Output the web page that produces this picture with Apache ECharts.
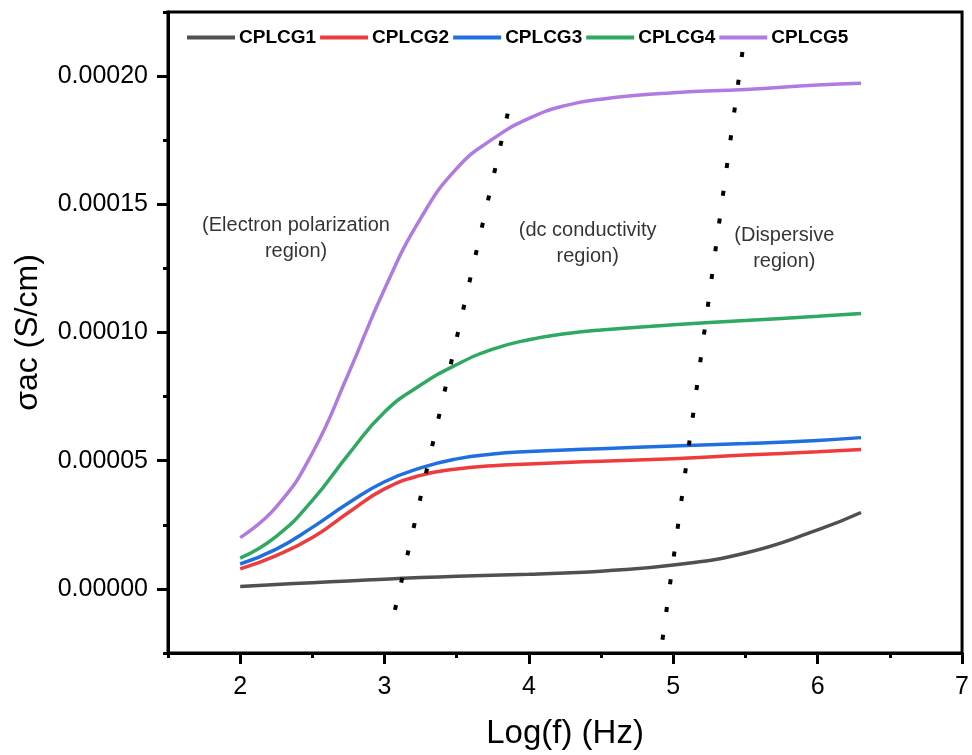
<!DOCTYPE html>
<html>
<head>
<meta charset="utf-8">
<script src="https://cdn.jsdelivr.net/npm/echarts@6/dist/echarts.min.js"></script>
<style>
  html, body { margin: 0; padding: 0; background: #fff; }
  #chart { width: 972px; height: 755px; }
</style>
</head>
<body>
<div id="chart"></div>
<script>
// log10 of frequency (Hz) at which conductivity was sampled
const logF = [2.0, 2.25, 2.5, 2.75, 3.0, 3.25, 3.5, 3.75, 4.0, 4.25, 4.5, 5.0, 5.5, 6.0, 6.3];

// AC conductivity, S/cm
const cplcg1 = [0.09e-5, 0.17e-5, 0.24e-5, 0.31e-5, 0.38e-5, 0.44e-5, 0.49e-5, 0.53e-5, 0.57e-5, 0.62e-5, 0.69e-5, 0.93e-5, 1.40e-5, 2.30e-5, 2.98e-5];
const cplcg2 = [0.78e-5, 1.30e-5, 2.00e-5, 2.98e-5, 3.90e-5, 4.43e-5, 4.68e-5, 4.80e-5, 4.87e-5, 4.93e-5, 4.98e-5, 5.08e-5, 5.22e-5, 5.35e-5, 5.44e-5];
const cplcg3 = [0.97e-5, 1.55e-5, 2.40e-5, 3.35e-5, 4.18e-5, 4.72e-5, 5.07e-5, 5.26e-5, 5.36e-5, 5.42e-5, 5.47e-5, 5.57e-5, 5.67e-5, 5.79e-5, 5.90e-5];
const cplcg4 = [1.20e-5, 2.05e-5, 3.45e-5, 5.25e-5, 6.90e-5, 7.95e-5, 8.75e-5, 9.35e-5, 9.72e-5, 9.95e-5, 10.10e-5, 10.30e-5, 10.47e-5, 10.63e-5, 10.74e-5];
const cplcg5 = [2.00e-5, 3.20e-5, 5.30e-5, 8.40e-5, 11.70e-5, 14.45e-5, 16.40e-5, 17.55e-5, 18.35e-5, 18.85e-5, 19.10e-5, 19.35e-5, 19.48e-5, 19.65e-5, 19.72e-5];

const seriesNames = ['CPLCG1', 'CPLCG2', 'CPLCG3', 'CPLCG4', 'CPLCG5'];
const seriesValues = [cplcg1, cplcg2, cplcg3, cplcg4, cplcg5];

// region boundaries (dotted guides), [logF, σac] end points
const boundaryLow = [[3.072, -0.82e-5], [3.874, 19.06e-5]];
const boundaryHigh = [[4.925, -1.98e-5], [5.485, 21.2e-5]];

// region captions and their anchor points
const regionLabels = ['(Electron polarization\nregion)', '(dc conductivity\nregion)', '(Dispersive\nregion)'];
const regionX = [2.387, 4.407, 5.769];
const regionY = [13.67e-5, 13.47e-5, 13.28e-5];

// axis ticks and labels
const xMajorTicks = [2, 3, 4, 5, 6, 7];
const yMajorTicks = [0, 0.00005, 0.0001, 0.00015, 0.0002];

const colors = ['#505050', '#EE3B3E', '#1F6FE0', '#2FA862', '#B07BE0'];
const FONT = '"Liberation Sans", Arial, sans-serif';

const chart = echarts.init(document.getElementById('chart'), null, { renderer: 'canvas' });

const lineSeries = seriesNames.map((name, i) => ({
  name: name,
  type: 'line',
  data: logF.map((x, j) => [x, seriesValues[i][j]]),
  smooth: 0.5,
  symbol: 'none',
  lineStyle: { width: 3.5, color: colors[i] },
  itemStyle: { color: colors[i] },
  z: 3
}));

const guideSeries = [boundaryLow, boundaryHigh].map(pts => ({
  type: 'line',
  data: pts,
  symbol: 'none',
  silent: true,
  lineStyle: { color: '#000', width: 4, type: [5, 23], cap: 'butt' },
  z: 4
}));

const captionSeries = {
  type: 'scatter',
  symbolSize: 0,
  silent: true,
  data: regionLabels.map((t, i) => [regionX[i], regionY[i], t]),
  label: {
    show: true,
    position: 'inside',
    formatter: p => p.data[2],
    fontFamily: FONT,
    fontSize: 20,
    lineHeight: 26,
    color: '#000',
    align: 'center'
  },
  z: 5
};

const axisLineStyle = { show: true, onZero: false, lineStyle: { color: '#000', width: 3 } };

chart.setOption({
  animation: false,
  backgroundColor: '#fff',
  color: colors,
  grid: {
    left: 168, right: 7, top: 12, bottom: 98,
    show: true, borderColor: '#000', borderWidth: 3, backgroundColor: 'transparent'
  },
  legend: {
    data: seriesNames,
    icon: 'rect',
    left: 182,
    top: 23,
    itemWidth: 48,
    itemHeight: 4,
    itemGap: 4,
    textStyle: { fontFamily: FONT, fontSize: 19, fontWeight: 'bold', color: '#000', padding: [0, 0, 0, -1] }
  },
  xAxis: [
    {
      type: 'value', min: 1.5, max: 7,
      name: 'Log(f) (Hz)', nameLocation: 'middle', nameGap: 64,
      nameTextStyle: { fontFamily: FONT, fontSize: 33, color: '#000' },
      axisLine: axisLineStyle,
      axisTick: { show: true, customValues: xMajorTicks, length: 11, lineStyle: { width: 3, color: '#000' } },
      axisLabel: { customValues: xMajorTicks, fontFamily: FONT, fontSize: 25, color: '#000', margin: 22 },
      splitLine: { show: false }
    },
    {
      type: 'value', min: 1.5, max: 7, interval: 0.5, position: 'bottom',
      axisLine: { show: false, onZero: false },
      axisTick: { show: true, length: 5, lineStyle: { width: 3, color: '#000' } },
      axisLabel: { show: false },
      splitLine: { show: false }
    }
  ],
  yAxis: [
    {
      type: 'value', min: -0.000025, max: 0.000225,
      name: 'σac (S/cm)', nameLocation: 'middle', nameGap: 124, nameRotate: 90,
      nameTextStyle: { fontFamily: FONT, fontSize: 32, color: '#000' },
      axisLine: axisLineStyle,
      axisTick: { show: true, customValues: yMajorTicks, length: 11, lineStyle: { width: 3, color: '#000' } },
      axisLabel: {
        customValues: yMajorTicks,
        formatter: v => Number(v).toFixed(5),
        fontFamily: FONT, fontSize: 25, color: '#000', margin: 20
      },
      splitLine: { show: false }
    },
    {
      type: 'value', min: -0.000025, max: 0.000225, interval: 0.000025, position: 'left',
      axisLine: { show: false, onZero: false },
      axisTick: { show: true, length: 5, lineStyle: { width: 3, color: '#000' } },
      axisLabel: { show: false },
      splitLine: { show: false }
    }
  ],
  series: [...lineSeries, ...guideSeries, captionSeries]
});
</script>
</body>
</html>
